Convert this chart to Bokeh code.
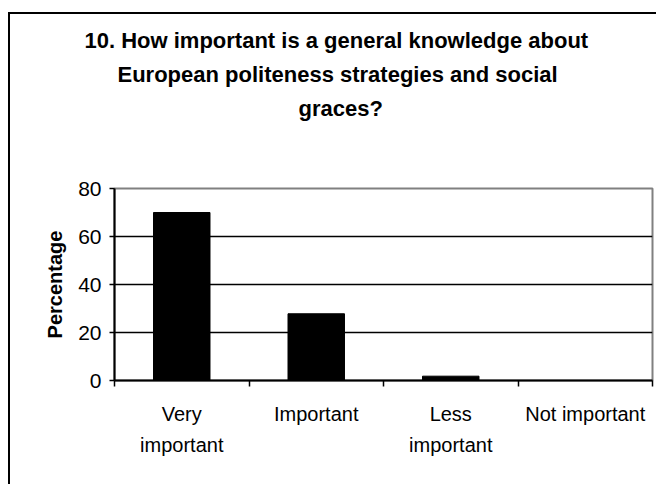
from bokeh.plotting import figure
from bokeh.models import Range1d, FixedTicker, Title
from bokeh.embed import file_html
from bokeh.resources import INLINE

categories = ["Very\nimportant", "Important", "Less\nimportant", "Not important"]
values = [70.0, 27.8, 1.8, 0.0]
y_ticks = [0, 20, 40, 60, 80]
title_lines = ["10. How important is a general knowledge about",
               "European politeness strategies and social",
               "graces?"]
title_offsets = [-30, 3, 184]
y_label = "Percentage"

FONT = "Liberation Sans"

p = figure(width=648, height=472, output_backend="svg", toolbar_location=None,
           x_range=Range1d(0, len(categories)), y_range=Range1d(0, 80),
           min_border_left=104, min_border_right=6, min_border_top=174, min_border_bottom=106,
           margin=(12, 0, 0, 8))
p.styles = {"border-left": "2px solid black", "border-top": "2px solid black"}

xs = [i + 0.5 for i in range(len(categories))]
p.vbar(x=xs, top=values, width=0.42, fill_color="black", line_color="black", line_width=1)

p.outline_line_color = "#808080"
p.outline_line_width = 2
p.outline_line_alpha = 1

p.xgrid.visible = False
p.ygrid.ticker = FixedTicker(ticks=y_ticks)
p.ygrid.grid_line_color = "black"
p.ygrid.grid_line_width = 1.5

p.yaxis.ticker = FixedTicker(ticks=y_ticks)
p.yaxis.major_tick_in = 0
p.yaxis.major_tick_out = 5
p.yaxis.minor_tick_line_color = None
p.yaxis.axis_line_color = "black"
p.yaxis.axis_line_width = 2
p.yaxis.major_tick_line_width = 1.5
p.yaxis.major_label_text_font = FONT
p.yaxis.major_label_text_font_size = "21px"
p.yaxis.major_label_text_color = "black"
p.yaxis.major_label_standoff = 8
p.yaxis.axis_label = y_label
p.yaxis.axis_label_text_font = FONT
p.yaxis.axis_label_text_font_style = "bold"
p.yaxis.axis_label_text_font_size = "20px"
p.yaxis.axis_label_text_color = "black"
p.yaxis.axis_label_standoff = 9

p.xaxis.ticker = FixedTicker(ticks=xs, minor_ticks=list(range(len(categories) + 1)))
p.xaxis.major_label_overrides = {x: c for x, c in zip(xs, categories)}
p.xaxis.major_tick_line_color = None
p.xaxis.minor_tick_in = 0
p.xaxis.minor_tick_out = 6
p.xaxis.minor_tick_line_color = "black"
p.xaxis.minor_tick_line_width = 1.5
p.xaxis.axis_line_color = "black"
p.xaxis.axis_line_width = 2
p.xaxis.major_label_text_font = FONT
p.xaxis.major_label_text_font_size = "20px"
p.xaxis.major_label_text_color = "black"
p.xaxis.major_label_text_line_height = 1.45
p.xaxis.major_label_standoff = 16

# spacer between the title block and the plot frame
p.add_layout(Title(text=" ", text_font=FONT, text_font_size="22px", standoff=37), "above")
for line, off in reversed(list(zip(title_lines, title_offsets))):
    p.add_layout(Title(text=line, align="left", offset=off, text_font=FONT,
                       text_font_style="bold", text_font_size="22px", text_color="black",
                       standoff=6.5), "above")

open("out.html", "w").write(file_html(p, INLINE))
